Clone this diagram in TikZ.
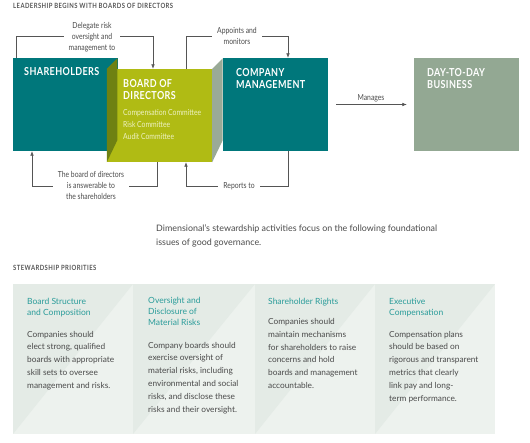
\documentclass[tikz,border=0pt]{standalone}
\usepackage{fontspec}
\setmainfont{Lato}
\newfontfamily\cond[FakeStretch=0.82]{Lato}
\newfontfamily\condsp[FakeStretch=0.82,LetterSpace=3.5]{Lato}
\newfontfamily\condhd[FakeStretch=0.82,LetterSpace=6]{Lato}
\usetikzlibrary{arrows.meta}
\definecolor{teal}{HTML}{00777B}
\definecolor{olive}{HTML}{B0BB14}
\definecolor{darkolive}{HTML}{6F8112}
\definecolor{sidegray}{HTML}{9AAA97}
\definecolor{ddgreen}{HTML}{93A893}
\definecolor{linegray}{HTML}{555555}
\definecolor{txtgray}{HTML}{4A4A4A}
\definecolor{titleteal}{HTML}{2A9C9A}
\definecolor{panellight}{HTML}{EDF2EE}
\definecolor{paneldark}{HTML}{E4EBE6}
\definecolor{committee}{HTML}{EEF2C4}
\tikzset{
  box/.style={draw=none,minimum width=105pt,minimum height=93pt,inner sep=0pt},
  boxtitle/.style={anchor=base west,align=left,text=white,inner sep=0pt,
    font=\condsp\bfseries\fontsize{11}{12.5}\selectfont},
  conn/.style={draw=linegray,line width=0.6pt,-{Latex[length=4.5pt,width=3.6pt]}},
  clabel/.style={anchor=base,align=center,fill=white,inner xsep=5pt,inner ysep=1pt,text=txtgray,
    font=\cond\fontsize{8.3}{11}\selectfont},
  heading/.style={anchor=base west,inner sep=0pt,text=linegray,
    font=\condhd\bfseries\fontsize{7.2}{8}\selectfont},
  ptitle/.style={anchor=base west,align=left,inner sep=0pt,text=titleteal,
    font=\fontsize{8.5}{10.8}\selectfont},
  pbody/.style={anchor=base west,align=left,inner sep=0pt,text=txtgray,
    font=\fontsize{8.3}{12.8}\selectfont},
}
\begin{document}
\begin{tikzpicture}[x=1pt,y=-1pt]
\useasboundingbox (0,0) rectangle (530,442);

% boxes
\node[box,fill=teal] (sh) at (65.5,104.5) {};
\node[box,fill=olive] (bd) at (159.5,115.5) {};
\fill[darkolive] (bd.north west) -- ++(10.5,-10.5) -- ++(0,82) -- (bd.south west) -- cycle;
\fill[sidegray] (bd.north east) -- ++(10.5,-10.5) -- ++(0,82) -- (bd.south east) -- cycle;
\node[box,fill=teal] (co) at (275.5,104.5) {};
\node[box,fill=ddgreen] (dd) at (466.5,104.5) {};

% box texts (multi-line nodes: base anchor = last line)
\node[boxtitle] (tsh) at (24,75) {SHAREHOLDERS};
\node[boxtitle] (tbd) at (123,99.5) {BOARD OF\\DIRECTORS};
\node[anchor=base west,align=left,inner sep=0pt,text=committee,font=\cond\fontsize{8.3}{12.4}\selectfont] (tcm) at (123,139.8)
  {Compensation Committee\\Risk Committee\\Audit Committee};
\node[boxtitle] (tco) at (236,88.5) {COMPANY\\MANAGEMENT};
\node[boxtitle] (tdd) at (427,88.5) {DAY-TO-DAY\\BUSINESS};

% connectors
\draw[conn] ([xshift=-49.5pt]sh.north) -- ++(0,-22) -| ([xshift=-6.5pt]bd.north);
\node[clabel] (l1) at (92,50) {Delegate risk\\oversight and\\management to};
\draw[conn] ([xshift=26.5pt]bd.north) -- ++(0,-33) -| ([xshift=12.5pt]co.north);
\node[clabel] (l2) at (237,44) {Appoints and\\monitors};
\draw[conn] ([xshift=-2.5pt]bd.south) -- ++(0,24) -| ([xshift=-33.5pt]sh.south);
\node[clabel] (l3) at (91,199) {The board of directors\\is answerable to\\the shareholders};
\draw[conn] ([xshift=12.5pt]co.south) -- ++(0,35) -| ([xshift=26.5pt]bd.south);
\node[clabel] (l4) at (239,188) {Reports to};
\draw[conn] ([xshift=8pt]co.east) -- ([xshift=-7pt]dd.west);
\node[clabel,fill=none] (l5) at (371,100) {Manages};

% heading
\node[heading] (h1) at (13,8) {LEADERSHIP BEGINS WITH BOARDS OF DIRECTORS};

% paragraph
\node[anchor=base west,align=left,inner sep=0pt,text=txtgray,font=\fontsize{8.9}{14}\selectfont] (para) at (156,245)
  {Dimensional’s stewardship activities focus on the following foundational\\issues of good governance.};

\node[heading] (h2) at (13,270) {STEWARDSHIP PRIORITIES};

% panels
\foreach \i/\xa/\xb in {1/13/133,2/133/255,3/255/375,4/375/495}{
  \fill[panellight] (\xa,284) rectangle (\xb,434);
  \fill[paneldark] (\xa,284) -- (\xb,284) -- (\xa,434) -- cycle;
  \node[inner sep=0pt,minimum width=\xb pt-\xa pt,minimum height=150pt] (p\i) at ({(\xa+\xb)/2},359) {};
}

\node[ptitle] (t1) at (27,315.5) {Board Structure\\and Composition};
\node[pbody] (b1) at (27,388.2) {Companies should\\elect strong, qualified\\boards with appropriate\\skill sets to oversee\\management and risks.};

\node[ptitle] (t2) at (148,325.5) {Oversight and\\Disclosure of\\Material Risks};
\node[pbody] (b2) at (148,412) {Company boards should\\exercise oversight of\\material risks, including\\environmental and social\\risks, and disclose these\\risks and their oversight.};

\node[ptitle] (t3) at (268,304.5) {Shareholder Rights};
\node[pbody] (b3) at (268,388.5) {Companies should\\maintain mechanisms\\for shareholders to raise\\concerns and hold\\boards and management\\accountable.};

\node[ptitle] (t4) at (389,315) {Executive\\Compensation};
\node[pbody] (b4) at (389,401) {Compensation plans\\should be based on\\rigorous and transparent\\metrics that clearly\\link pay and long-\\term performance.};
\end{tikzpicture}
\end{document}
